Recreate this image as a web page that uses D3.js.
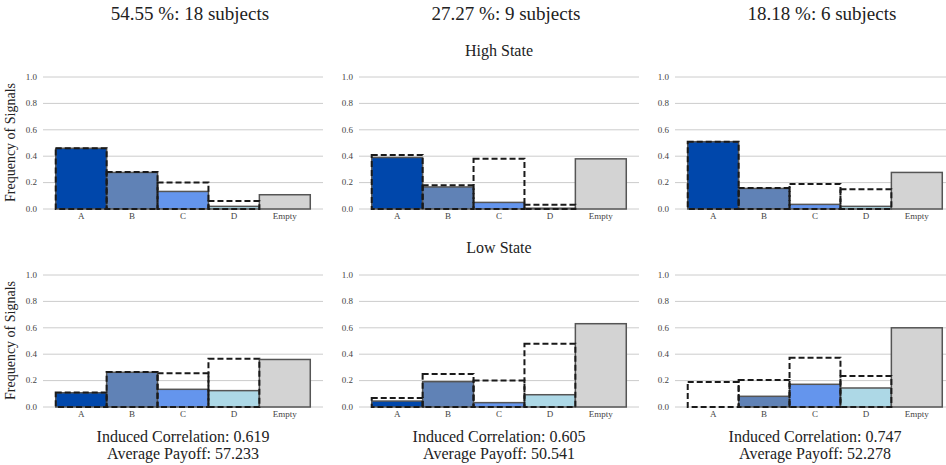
<!DOCTYPE html>
<style>
body { margin: 0; background: #fff; }
</style>
<svg width="946" height="465" class="chart" font-family="'Liberation Serif', 'DejaVu Serif', serif"></svg>
<script src="https://d3js.org/d3.v7.min.js"></script>
<script>

var signals = ["A", "B", "C", "D", "Empty"];
var colTitles = ["54.55 %: 18 subjects", "27.27 %: 9 subjects", "18.18 %: 6 subjects"];
var rowTitles = ["High State", "Low State"];
var yTicks = [0, 0.2, 0.4, 0.6, 0.8, 1.0];

// solid (filled) bars and dashed outline bars, one array per subject group
var highSolid = [
  [0.46, 0.277, 0.133, 0.02, 0.108],
  [0.39, 0.167, 0.05, 0.006, 0.38],
  [0.51, 0.156, 0.035, 0.02, 0.277]
];
var highDashed = [
  [0.46, 0.28, 0.20, 0.06, 0],
  [0.41, 0.18, 0.38, 0.033, 0],
  [0.51, 0.16, 0.19, 0.15, 0]
];
var lowSolid = [
  [0.108, 0.263, 0.134, 0.124, 0.36],
  [0.045, 0.192, 0.033, 0.093, 0.631],
  [0, 0.081, 0.172, 0.144, 0.60]
];
var lowDashed = [
  [0.11, 0.265, 0.255, 0.366, 0],
  [0.068, 0.25, 0.20, 0.48, 0],
  [0.19, 0.205, 0.373, 0.235, 0]
];
var correlations = ["0.619", "0.605", "0.747"];
var payoffs = ["57.233", "50.541", "52.278"];

var colors = ["#0047AB", "#6082B6", "#6495ED", "#ADD8E6", "#D3D3D3"];

var svg = d3.select(".chart");
var panelLeft = [43, 359, 675],
    panelWidth = 280,
    rowTop = [77, 275],
    panelHeight = 132;

var x = d3.scaleBand()
    .domain(signals)
    .range([0, panelWidth])
    .paddingInner(0)
    .paddingOuter(0.25);

var y = d3.scaleLinear()
    .domain([0, 1])
    .range([panelHeight, 0]);

var color = d3.scaleOrdinal().domain(signals).range(colors);

var rows = [[highSolid, highDashed], [lowSolid, lowDashed]];

rows.forEach(function(row, r) {
  panelLeft.forEach(function(left, c) {
    var g = svg.append("g")
        .attr("transform", "translate(" + left + "," + rowTop[r] + ")");

    g.append("g")
      .selectAll("line")
      .data(yTicks)
      .enter().append("line")
        .attr("x1", 0)
        .attr("x2", panelWidth)
        .attr("y1", function(d) { return y(d); })
        .attr("y2", function(d) { return y(d); })
        .attr("stroke", "#cccccc")
        .attr("stroke-width", 1);

    g.append("g")
      .selectAll("text")
      .data(yTicks)
      .enter().append("text")
        .attr("x", -6)
        .attr("y", function(d) { return y(d); })
        .attr("dy", "0.32em")
        .attr("text-anchor", "end")
        .attr("font-size", 9)
        .attr("fill", "#444")
        .text(function(d) { return d.toFixed(1); });

    g.append("g")
      .selectAll("text")
      .data(signals)
      .enter().append("text")
        .attr("x", function(d) { return x(d) + x.bandwidth() / 2; })
        .attr("y", panelHeight + 10)
        .attr("text-anchor", "middle")
        .attr("font-size", 9)
        .attr("fill", "#444")
        .text(function(d) { return d; });

    g.append("g")
      .selectAll("rect")
      .data(row[0][c])
      .enter().append("rect")
        .attr("x", function(d, i) { return x(signals[i]); })
        .attr("y", function(d) { return y(d); })
        .attr("width", x.bandwidth())
        .attr("height", function(d) { return panelHeight - y(d); })
        .attr("fill", function(d, i) { return color(signals[i]); })
        .attr("stroke", "#555")
        .attr("stroke-width", 1.5);

    g.append("g")
      .selectAll("rect")
      .data(row[1][c])
      .enter().append("rect")
        .attr("x", function(d, i) { return x(signals[i]); })
        .attr("y", function(d) { return y(d); })
        .attr("width", x.bandwidth())
        .attr("height", function(d) { return panelHeight - y(d); })
        .attr("fill", "none")
        .attr("stroke", "#1a1a1a")
        .attr("stroke-width", 2)
        .attr("stroke-dasharray", "6,3");

    if (c === 0) {
      g.append("text")
        .attr("transform", "translate(-28," + (panelHeight / 2 - 0.5) + ") rotate(-90)")
        .attr("text-anchor", "middle")
        .attr("font-size", 14)
        .attr("fill", "#222")
        .text("Frequency of Signals");
    }
    if (c === 1) {
      g.append("text")
        .attr("x", panelWidth / 2)
        .attr("y", r === 0 ? -21 : -22)
        .attr("text-anchor", "middle")
        .attr("font-size", 16)
        .attr("fill", "#222")
        .text(rowTitles[r]);
    }
    if (r === 0) {
      g.append("text")
        .attr("x", panelWidth / 2 + 7)
        .attr("y", 20 - rowTop[0])
        .attr("text-anchor", "middle")
        .attr("font-size", 19)
        .attr("fill", "#222")
        .text(colTitles[c]);
    } else {
      g.append("text")
        .attr("x", panelWidth / 2)
        .attr("y", 442 - rowTop[1])
        .attr("text-anchor", "middle")
        .attr("font-size", 16)
        .attr("fill", "#222")
        .text("Induced Correlation: " + correlations[c]);
      g.append("text")
        .attr("x", panelWidth / 2)
        .attr("y", 459 - rowTop[1])
        .attr("text-anchor", "middle")
        .attr("font-size", 16)
        .attr("fill", "#222")
        .text("Average Payoff: " + payoffs[c]);
    }
  });
});

</script>
